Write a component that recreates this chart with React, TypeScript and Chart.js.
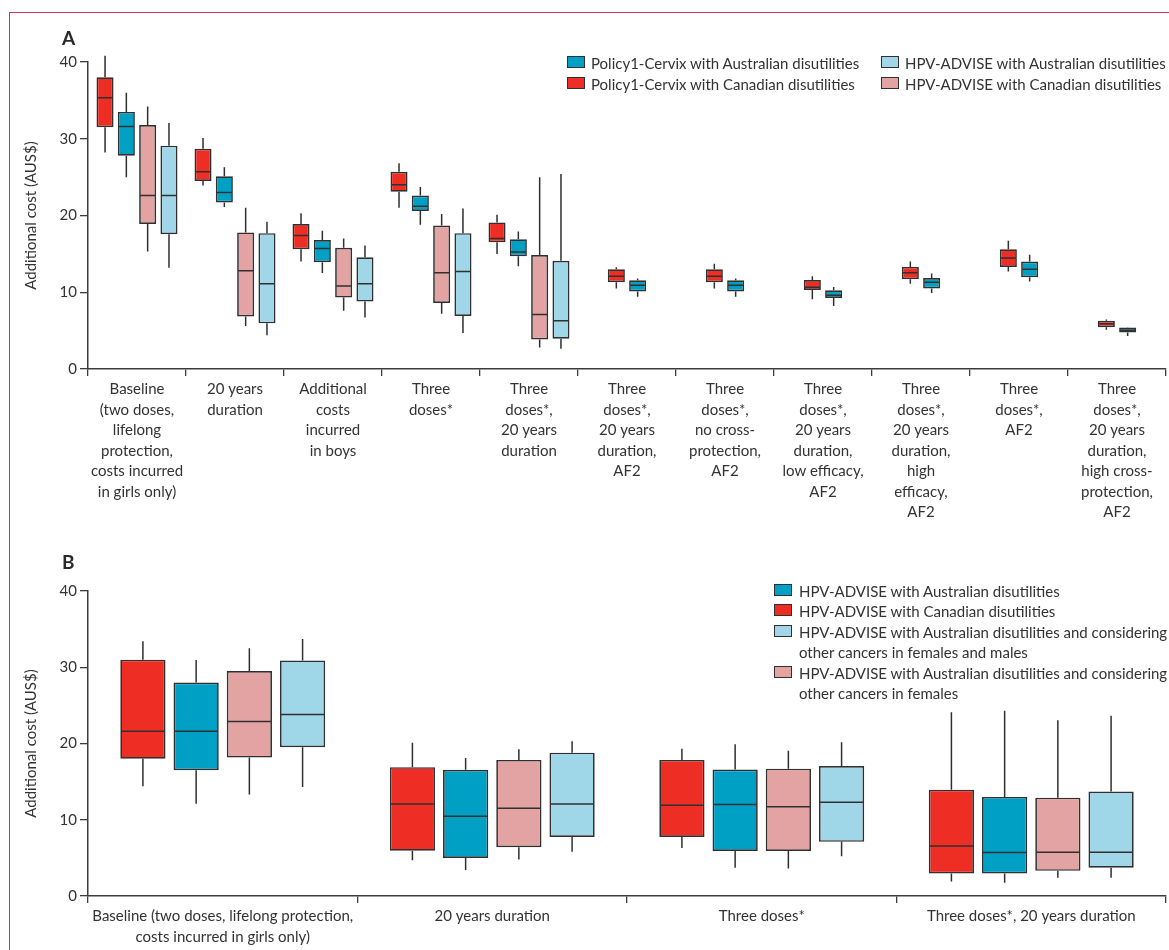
import React, { useEffect, useRef } from "react";
import { Chart, registerables } from "chart.js";

Chart.register(...registerables);

type Stat = [number, number, number, number, number] | null; // min, q1, median, q3, max

// ---------- Panel A data ----------
const categoriesA: string[][] = [
  ["Baseline", "(two doses,", "lifelong", "protection,", "costs incurred", "in girls only)"],
  ["20 years", "duration"],
  ["Additional", "costs", "incurred", "in boys"],
  ["Three", "doses*"],
  ["Three", "doses*,", "20 years", "duration"],
  ["Three", "doses*,", "20 years", "duration,", "AF2"],
  ["Three", "doses*,", "no cross-", "protection,", "AF2"],
  ["Three", "doses*,", "20 years", "duration,", "low efficacy,", "AF2"],
  ["Three", "doses*,", "20 years", "duration,", "high", "efficacy,", "AF2"],
  ["Three", "doses*,", "AF2"],
  ["Three", "doses*,", "20 years", "duration,", "high cross-", "protection,", "AF2"],
];

const policyCanadianA: Stat[] = [
  [28.2, 31.5, 35.35, 38.0, 40.8],
  [23.9, 24.5, 25.7, 28.7, 30.1],
  [14.0, 15.6, 17.4, 18.9, 20.3],
  [21.0, 23.1, 24.0, 25.7, 26.8],
  [15.0, 16.5, 17.0, 19.1, 20.1],
  [10.5, 11.3, 12.1, 13.0, 13.25],
  [10.5, 11.3, 12.1, 13.0, 13.7],
  [9.1, 10.3, 10.65, 11.6, 12.1],
  [11.1, 11.7, 12.55, 13.3, 14.0],
  [12.7, 13.3, 14.45, 15.6, 16.7],
  [5.1, 5.45, 5.9, 6.3, 6.45],
];

const policyAustralianA: Stat[] = [
  [25.0, 27.8, 31.6, 33.5, 36.0],
  [21.1, 21.7, 23.0, 25.1, 26.3],
  [12.5, 13.9, 15.7, 16.8, 18.0],
  [18.8, 20.6, 21.2, 22.6, 23.7],
  [13.4, 14.7, 15.25, 16.9, 17.9],
  [9.4, 10.1, 10.9, 11.55, 11.8],
  [9.4, 10.1, 10.9, 11.55, 11.8],
  [8.2, 9.25, 9.6, 10.25, 10.7],
  [9.9, 10.5, 11.3, 11.85, 12.45],
  [11.4, 11.95, 13.0, 14.0, 14.9],
  [4.3, 4.75, 5.05, 5.4, 5.45],
];

const hpvCanadianA: Stat[] = [
  [15.3, 18.9, 22.6, 31.8, 34.2],
  [5.6, 6.85, 12.8, 17.8, 21.0],
  [7.6, 9.3, 10.8, 15.8, 17.0],
  [7.2, 8.6, 12.55, 18.7, 20.2],
  [2.8, 3.85, 7.1, 14.85, 25.0],
  null, null, null, null, null, null,
];

const hpvAustralianA: Stat[] = [
  [13.2, 17.55, 22.6, 29.1, 32.05],
  [4.4, 5.95, 11.1, 17.7, 19.2],
  [6.7, 8.8, 11.1, 14.55, 16.1],
  [4.7, 6.9, 12.7, 17.7, 20.9],
  [2.65, 3.95, 6.3, 14.1, 25.4],
  null, null, null, null, null, null,
];

// ---------- Panel B data ----------
const categoriesB: (string | string[])[] = [
  ["Baseline (two doses, lifelong protection,", "costs incurred in girls only)"],
  "20 years duration",
  "Three doses*",
  "Three doses*, 20 years duration",
];

const hpvCanadianB: Stat[] = [
  [14.4, 18.0, 21.6, 31.0, 33.4],
  [4.7, 5.95, 12.05, 16.9, 20.1],
  [6.3, 7.75, 11.9, 17.85, 19.3],
  [1.9, 2.95, 6.55, 13.95, 24.1],
];
const hpvAustralianB: Stat[] = [
  [12.1, 16.5, 21.6, 28.0, 30.95],
  [3.4, 5.0, 10.45, 16.55, 18.1],
  [3.7, 5.9, 12.0, 16.6, 19.9],
  [1.75, 2.95, 5.7, 13.0, 24.3],
];
const hpvAusOtherFemalesB: Stat[] = [
  [13.3, 18.15, 22.9, 29.5, 32.5],
  [4.8, 6.4, 11.5, 17.85, 19.25],
  [3.6, 5.9, 11.7, 16.7, 19.05],
  [2.4, 3.3, 5.75, 12.9, 23.05],
];
const hpvAusOtherBothB: Stat[] = [
  [14.3, 19.5, 23.8, 30.9, 33.7],
  [5.8, 7.75, 12.05, 18.8, 20.3],
  [5.2, 7.1, 12.3, 17.05, 20.15],
  [2.4, 3.7, 5.75, 13.7, 23.65],
];

const yTicks = [0, 10, 20, 30, 40];

// ---------- styling ----------
const RED = "#ee2e24";
const BLUE = "#00a0c4";
const PINK = "#e2a3a2";
const LIGHT = "#9fd6e8";
const BORDER = "#303030";
const TEXT = "#333333";
const AXIS = "#3c3c3c";
const FONT = "Lato, 'Open Sans', sans-serif";

const boxPlugin = {
  id: "boxWhiskers",
  afterDatasetsDraw(chart: any) {
    const ctx = chart.ctx;
    const y = chart.scales.y;
    chart.data.datasets.forEach((ds: any, di: number) => {
      const meta = chart.getDatasetMeta(di);
      const stats: Stat[] = ds.stats;
      meta.data.forEach((el: any, i: number) => {
        const s = stats[i];
        if (!s) return;
        const { x, width } = el.getProps(["x", "width"], true);
        const half = width / 2;
        ctx.save();
        ctx.strokeStyle = BORDER;
        ctx.lineWidth = 1.5;
        ctx.beginPath();
        ctx.moveTo(x, y.getPixelForValue(s[4]));
        ctx.lineTo(x, y.getPixelForValue(s[3]));
        ctx.moveTo(x, y.getPixelForValue(s[1]));
        ctx.lineTo(x, y.getPixelForValue(s[0]));
        const m = y.getPixelForValue(s[2]);
        ctx.moveTo(x - half + 1, m);
        ctx.lineTo(x + half - 1, m);
        ctx.stroke();
        ctx.restore();
      });
    });
  },
};

function mk(label: string, stats: Stat[], color: string, stack?: string) {
  return {
    label,
    stats,
    data: stats.map((s) => (s ? [s[1], s[3]] : null)),
    backgroundColor: color,
    borderColor: BORDER,
    borderWidth: 1.7,
    borderSkipped: false,
    stack,
  };
}

const hasFour = (i: number) => hpvCanadianA[i] !== null;
const pick = (arr: Stat[], cond: (i: number) => boolean) => arr.map((s, i) => (cond(i) ? s : null));

function makeOptions(padTop: number, xHeight: number, cp: number, bp: number) {
  return {
    animation: false,
    responsive: false,
    maintainAspectRatio: false,
    layout: { padding: { top: padTop, right: 3, left: 0, bottom: 0 } },
    plugins: { legend: { display: false }, tooltip: { enabled: false } },
    datasets: { bar: { categoryPercentage: cp, barPercentage: bp } },
    scales: {
      x: {
        grid: { offset: true, drawOnChartArea: false, drawTicks: true, tickLength: 7, color: AXIS, lineWidth: 1.3 },
        border: { display: true, color: AXIS, width: 1.5 },
        ticks: {
          autoSkip: false,
          maxRotation: 0,
          minRotation: 0,
          color: TEXT,
          padding: 3,
          font: { family: FONT, size: 15, lineHeight: 1.37 },
        },
        afterFit: (s: any) => {
          s.height = xHeight;
        },
      },
      y: {
        min: 0,
        max: 40,
        stacked: false,
        afterBuildTicks: (s: any) => {
          s.ticks = yTicks.map((v) => ({ value: v }));
        },
        ticks: { color: TEXT, padding: 3, font: { family: FONT, size: 15 } },
        grid: { drawOnChartArea: false, drawTicks: true, tickLength: 8, color: AXIS, lineWidth: 1.3 },
        border: { display: true, color: AXIS, width: 1.5 },
        title: {
          display: true,
          text: "Additional cost (AUS$)",
          color: TEXT,
          padding: { top: 22, bottom: 0 },
          font: { family: FONT, size: 15, lineHeight: 1.2 },
        },
        afterFit: (s: any) => {
          s.width = 88;
        },
      },
    },
  };
}

function ChartCanvas({ config, width, height, top }: { config: any; width: number; height: number; top: number }) {
  const ref = useRef<HTMLCanvasElement | null>(null);
  useEffect(() => {
    if (!ref.current) return;
    const chart = new Chart(ref.current, config);
    return () => chart.destroy();
  }, []);
  return (
    <canvas
      ref={ref}
      width={width}
      height={height}
      style={{ position: "absolute", left: 0, top, width, height }}
    />
  );
}

function LegendItem({ x, y, color, text, gap, lh }: { x: number; y: number; color: string; text: React.ReactNode; gap: number; lh: number }) {
  return (
    <div style={{ position: "absolute", left: x, top: y, fontFamily: FONT, fontSize: 15, lineHeight: `${lh}px`, color: TEXT, whiteSpace: "nowrap" }}>
      <div
        style={{
          position: "absolute",
          left: 0,
          top: (lh - 13) / 2,
          width: 16,
          height: 10,
          background: color,
          border: `1.5px solid ${BORDER}`,
        }}
      />
      <div style={{ marginLeft: gap }}>{text}</div>
    </div>
  );
}

export default function App() {
  const datasetsA = [
    mk("Policy1-Cervix with Canadian disutilities", pick(policyCanadianA, hasFour), RED, "s0"),
    mk("Policy1-Cervix with Australian disutilities", pick(policyAustralianA, hasFour), BLUE, "s1"),
    mk("HPV-ADVISE with Canadian disutilities", hpvCanadianA, PINK, "s2"),
    mk("HPV-ADVISE with Australian disutilities", hpvAustralianA, LIGHT, "s3"),
    mk("Policy1-Cervix with Canadian disutilities", pick(policyCanadianA, (i) => !hasFour(i)), RED, "s1"),
    mk("Policy1-Cervix with Australian disutilities", pick(policyAustralianA, (i) => !hasFour(i)), BLUE, "s2"),
  ];
  const configA = {
    type: "bar",
    data: { labels: categoriesA, datasets: datasetsA },
    options: makeOptions(62, 161, 0.87, 0.8),
    plugins: [boxPlugin],
  };

  const datasetsB = [
    mk("HPV-ADVISE with Canadian disutilities", hpvCanadianB, RED),
    mk("HPV-ADVISE with Australian disutilities", hpvAustralianB, BLUE),
    mk("HPV-ADVISE with Australian disutilities and considering other cancers in females", hpvAusOtherFemalesB, PINK),
    mk("HPV-ADVISE with Australian disutilities and considering other cancers in females and males", hpvAusOtherBothB, LIGHT),
  ];
  const configB = {
    type: "bar",
    data: { labels: categoriesB, datasets: datasetsB },
    options: makeOptions(61, 54, 0.79, 0.85),
    plugins: [boxPlugin],
  };

  return (
    <div style={{ position: "absolute", left: 0, top: 0, width: 1169, height: 950, overflow: "hidden", background: "#fff" }}>
      <div
        style={{
          position: "absolute",
          left: 9,
          top: 12,
          width: 1160,
          height: 938,
          borderTop: "1px solid #c8325f",
          borderLeft: "1px solid #c8325f",
        }}
      />
      <ChartCanvas config={configA} width={1169} height={530} top={0} />
      <ChartCanvas config={configB} width={1169} height={420} top={530} />

      <div style={{ position: "absolute", left: 62, top: 27, fontFamily: FONT, fontWeight: 700, fontSize: 19, lineHeight: "22px", color: "#2a2a2a" }}>A</div>
      <div style={{ position: "absolute", left: 62, top: 551, fontFamily: FONT, fontWeight: 700, fontSize: 19, lineHeight: "22px", color: "#2a2a2a" }}>B</div>

      <LegendItem x={567} y={52.7} color={BLUE} text="Policy1-Cervix with Australian disutilities" gap={24} lh={20.6} />
      <LegendItem x={567} y={73.7} color={RED} text="Policy1-Cervix with Canadian disutilities" gap={24} lh={20.6} />
      <LegendItem x={881} y={52.7} color={LIGHT} text="HPV-ADVISE with Australian disutilities" gap={24} lh={20.6} />
      <LegendItem x={881} y={73.7} color={PINK} text="HPV-ADVISE with Canadian disutilities" gap={24} lh={20.6} />

      <LegendItem x={774} y={580.7} color={BLUE} text="HPV-ADVISE with Australian disutilities" gap={25} lh={20.5} />
      <LegendItem x={774} y={600.7} color={RED} text="HPV-ADVISE with Canadian disutilities" gap={25} lh={20.5} />
      <LegendItem
        x={774}
        y={621.7}
        color={LIGHT}
        text={<>HPV-ADVISE with Australian disutilities and considering<br />other cancers in females and males</>}
        gap={25}
        lh={20.5}
      />
      <LegendItem
        x={774}
        y={662.7}
        color={PINK}
        text={<>HPV-ADVISE with Australian disutilities and considering<br />other cancers in females</>}
        gap={25}
        lh={20.5}
      />
    </div>
  );
}
